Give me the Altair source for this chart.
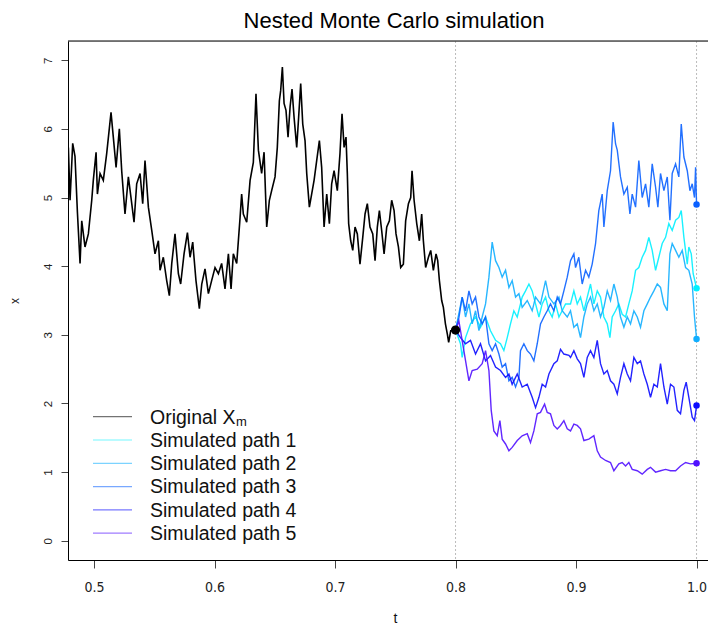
import altair as alt
import pandas as pd

# ---------------- data ----------------
black_t = [0.4787, 0.4801, 0.4823, 0.4842, 0.4862, 0.4884, 0.4898, 0.4925, 0.4953, 0.4981,
           0.4994, 0.5017, 0.5028, 0.505, 0.5077, 0.5105, 0.5141, 0.516, 0.5183, 0.521,
           0.523, 0.5257, 0.5285, 0.5313, 0.5332, 0.5354, 0.5382, 0.5404, 0.5423, 0.5451,
           0.5479, 0.5506, 0.5534, 0.5548, 0.5575, 0.5603, 0.5625, 0.5645, 0.5672, 0.57,
           0.5719, 0.5747, 0.5775, 0.5797, 0.5819, 0.5846, 0.5874, 0.5894, 0.5921, 0.5949,
           0.5976, 0.6004, 0.6032, 0.6059, 0.6087, 0.6115, 0.6137, 0.6156, 0.6184, 0.6212,
           0.6225, 0.6239, 0.6267, 0.6295, 0.6322, 0.6344, 0.6364, 0.6391, 0.6411, 0.6433,
           0.6455, 0.6474, 0.6502, 0.6521, 0.6538,
           0.6549, 0.6563, 0.6577, 0.6593, 0.661, 0.6627, 0.6643, 0.666, 0.6682, 0.6698,
           0.6715, 0.6732, 0.6751, 0.6765, 0.6787, 0.6806, 0.6826, 0.6848, 0.687, 0.6889,
           0.6909, 0.6931, 0.6953, 0.6972, 0.6992, 0.7019, 0.7041, 0.7058, 0.7075, 0.7091,
           0.7102, 0.7113, 0.713, 0.7147, 0.7166, 0.7185, 0.7207, 0.723, 0.7249, 0.7268,
           0.729, 0.7313, 0.7332, 0.7351, 0.7368, 0.7387, 0.7407, 0.7429, 0.7451, 0.747,
           0.749, 0.7506, 0.7526, 0.7545, 0.7567, 0.7586, 0.7609, 0.7628, 0.7639, 0.7656,
           0.7678, 0.77, 0.7719, 0.7733, 0.7752, 0.7775, 0.7794, 0.7816, 0.7838, 0.7852,
           0.7866, 0.7885, 0.7899, 0.7916, 0.7932, 0.7943, 0.796, 0.7982, 0.8]
black_x = [5.73, 4.96, 5.79, 5.6, 4.79, 4.04, 4.66, 4.28, 4.47, 4.96,
           5.25, 5.66, 5.05, 5.35, 5.25, 5.64, 6.24, 5.88, 5.44, 6.0,
           5.38, 4.76, 5.3, 4.91, 4.64, 5.2, 5.35, 4.91, 5.54, 4.86,
           4.52, 4.18, 4.37, 3.94, 4.13, 3.79, 3.57, 4.04, 4.47, 3.89,
           3.74, 4.18, 4.49, 4.13, 4.35, 3.79, 3.38, 3.74, 3.96, 3.6,
           3.79, 3.98, 3.89, 4.04, 3.67, 4.18, 3.67, 4.18, 4.04, 4.71,
           5.05, 4.76, 4.64, 5.25, 5.51, 6.51, 5.69, 5.35, 5.66, 4.57,
           4.96, 5.1, 5.3, 5.73, 6.41,
           6.56, 6.9, 6.37, 6.27, 5.88, 6.32, 6.58, 6.17, 5.73, 6.17,
           6.66, 6.07, 5.83, 5.35, 4.86, 5.05, 5.25, 5.54, 5.83, 5.44,
           4.57, 5.05, 4.62, 5.2, 5.39, 5.1, 5.64, 6.22, 5.73, 5.88,
           5.35, 4.62, 4.37, 4.23, 4.57, 4.47, 4.03, 4.42, 4.76, 4.91,
           4.57, 4.47, 4.08, 4.57, 4.81, 4.52, 4.18, 4.57, 4.66, 4.96,
           4.81, 4.47, 4.28, 3.98, 4.03, 4.66, 4.91, 5.0, 5.39, 4.96,
           4.62, 4.37, 4.76, 4.37, 3.98, 4.13, 4.23, 3.94, 4.18, 4.08,
           3.79, 3.5, 3.4, 3.16, 3.01, 2.89, 3.06, 3.06, 3.07]

p1_t = [0.8, 0.8041, 0.8055, 0.8083, 0.8124, 0.8166, 0.8207, 0.8249, 0.829, 0.8332,
        0.8373, 0.8401, 0.8429, 0.8456, 0.8484, 0.8512, 0.8553, 0.8581, 0.8609, 0.8636,
        0.8664, 0.8692, 0.8719, 0.8747, 0.8775, 0.8802, 0.883, 0.8858, 0.8885, 0.8913,
        0.8954, 0.8982, 0.901, 0.9037, 0.9065, 0.9093, 0.912, 0.9148, 0.9176, 0.9203,
        0.9231, 0.9259, 0.9281, 0.93, 0.9328, 0.9355, 0.9383, 0.9411, 0.9438, 0.9466,
        0.9494, 0.9521, 0.9549, 0.9577, 0.9604, 0.9632, 0.966, 0.9687, 0.9715, 0.9743,
        0.977, 0.9798, 0.9826, 0.9853, 0.9873, 0.9895, 0.9923, 0.9936, 0.9956, 0.9972,
        0.9992, 1.0]
p1_x = [3.07, 2.87, 2.67, 2.96, 3.16, 3.26, 3.11, 3.26, 3.06, 2.92,
        2.87, 2.77, 2.96, 3.16, 3.35, 3.26, 3.55, 3.64, 3.74, 3.64,
        3.45, 3.26, 3.45, 3.55, 3.35, 3.26, 3.45, 3.26, 3.35, 3.45,
        3.45, 3.64, 3.45, 3.55, 3.35, 3.55, 3.74, 3.45, 3.64, 3.55,
        3.26, 3.16, 2.96, 3.26, 3.35, 3.45, 3.30, 3.26, 3.45, 3.64,
        3.94, 3.98, 4.13, 4.23, 4.42, 4.23, 3.94, 4.13, 4.33, 4.42,
        4.62, 4.52, 4.67, 4.71, 4.81, 4.42, 4.03, 4.28, 4.18, 3.89,
        3.74, 3.68]

p2_t = [0.8, 0.8055, 0.8083, 0.8111, 0.8138, 0.8166, 0.8194, 0.8221, 0.8249, 0.8277,
        0.8304, 0.8332, 0.836, 0.8387, 0.8415, 0.8443, 0.847, 0.8498, 0.8526, 0.8553,
        0.8595, 0.8636, 0.8664, 0.8705, 0.8747, 0.8775, 0.8816, 0.8858, 0.8885, 0.8927,
        0.8954, 0.8982, 0.901, 0.9037, 0.9065, 0.9093, 0.912, 0.9148, 0.9176, 0.9203,
        0.9231, 0.9259, 0.9286, 0.9314, 0.9342, 0.9369, 0.9397, 0.9425, 0.9452, 0.948,
        0.9508, 0.9535, 0.9563, 0.9591, 0.9618, 0.9646, 0.9674, 0.9701, 0.9729, 0.9757,
        0.9779, 0.9798, 0.9826, 0.9853, 0.9881, 0.9909, 0.9936, 0.9964, 0.9983, 1.0]
p2_x = [3.07, 3.55, 3.26, 3.45, 3.16, 3.35, 3.06, 3.26, 3.45, 3.84,
        4.35, 4.08, 3.98, 3.84, 3.94, 3.69, 3.79, 3.55, 3.60, 3.40,
        3.50, 3.35, 3.55, 3.45, 3.79, 3.55, 3.45, 3.55, 3.35, 3.26,
        3.35, 3.11, 3.16, 2.96, 3.26, 3.45, 3.55, 3.35, 3.45, 3.26,
        3.40, 3.64, 3.50, 3.74, 3.55, 3.26, 3.11, 3.26, 3.16, 3.35,
        3.26, 3.11, 3.35, 3.45, 3.55, 3.64, 3.74, 3.69, 3.45, 3.35,
        4.18, 4.33, 4.23, 4.13, 4.23, 3.98, 3.94, 3.74, 3.26, 2.94]

p3_t = [0.8, 0.8028, 0.8055, 0.8083, 0.8111, 0.8138, 0.8166, 0.8194, 0.8221, 0.8249,
        0.8277, 0.8304, 0.8332, 0.836, 0.8387, 0.8415, 0.8443, 0.847, 0.8498, 0.8526,
        0.8539, 0.8567, 0.8595, 0.8622, 0.865, 0.8678, 0.8705, 0.8733, 0.8761, 0.8788,
        0.8816, 0.8844, 0.8871, 0.8899, 0.8927, 0.8954, 0.8982, 0.8996, 0.9023, 0.9051,
        0.9079, 0.9106, 0.9134, 0.9162, 0.9189, 0.9217, 0.9231, 0.9259, 0.9286, 0.9308,
        0.9328, 0.9342, 0.9369, 0.9397, 0.9425, 0.9447, 0.9466, 0.9494, 0.9521, 0.9549,
        0.9577, 0.9604, 0.9632, 0.966, 0.9679, 0.9701, 0.9729, 0.9757, 0.9779, 0.9798,
        0.9826, 0.9853, 0.9873, 0.9895, 0.9923, 0.9945, 0.9964, 0.9983, 0.9992, 1.0]
p3_x = [3.07, 3.25, 3.55, 3.35, 3.64, 3.45, 3.55, 3.26, 3.16, 3.26,
        2.87, 2.77, 2.87, 2.72, 2.53, 2.58, 2.33, 2.38, 2.24, 2.38,
        2.77, 2.87, 2.77, 2.72, 2.62, 2.87, 3.16, 3.26, 3.35, 3.45,
        3.35, 3.55, 3.45, 3.64, 3.84, 4.08, 4.18, 3.98, 4.13, 3.74,
        3.94, 3.84, 4.03, 4.33, 4.81, 5.05, 4.57, 5.10, 5.39, 6.10,
        5.78, 5.69, 5.30, 5.05, 5.15, 4.76, 5.05, 4.86, 5.54, 5.00,
        5.20, 4.86, 5.49, 5.15, 4.86, 5.35, 5.10, 5.30, 4.67, 5.35,
        5.49, 5.30, 6.07, 5.59, 5.39, 5.10, 5.20, 5.00, 5.44, 4.90]

p4_t = [0.8, 0.8041, 0.8083, 0.8124, 0.8166, 0.8207, 0.8249, 0.829, 0.8332, 0.8373,
        0.8415, 0.8443, 0.847, 0.8512, 0.8553, 0.8595, 0.8636, 0.8664, 0.8692, 0.8719,
        0.8747, 0.8775, 0.8816, 0.8844, 0.8871, 0.8899, 0.8941, 0.8954, 0.8982, 0.901,
        0.9037, 0.9065, 0.9093, 0.912, 0.9148, 0.9176, 0.9203, 0.9231, 0.9259, 0.9286,
        0.9314, 0.9342, 0.9369, 0.9397, 0.9425, 0.9452, 0.948, 0.9508, 0.9535, 0.9563,
        0.9591, 0.9618, 0.9646, 0.9674, 0.9701, 0.9729, 0.9757, 0.9784, 0.9812, 0.984,
        0.9867, 0.9895, 0.9914, 0.9936, 0.9964, 0.9983, 1.0]
p4_x = [3.07, 2.96, 2.87, 2.92, 2.72, 2.87, 2.62, 2.70, 2.53, 2.48,
        2.38, 2.43, 2.28, 2.43, 2.24, 2.28, 2.09, 1.94, 2.09, 2.28,
        2.24, 2.43, 2.58, 2.62, 2.79, 2.72, 2.70, 2.67, 2.77, 2.65,
        2.58, 2.38, 2.67, 2.77, 2.67, 2.92, 2.58, 2.43, 2.48, 2.33,
        2.28, 2.14, 2.38, 2.58, 2.43, 2.33, 2.67, 2.58, 2.62, 2.43,
        2.28, 2.09, 2.28, 2.24, 2.58, 2.24, 1.99, 2.28, 2.24, 1.90,
        1.85, 2.19, 2.31, 2.09, 1.80, 1.75, 1.97]

p5_t = [0.8, 0.8028, 0.8069, 0.8111, 0.8138, 0.818, 0.8221, 0.8249, 0.8277, 0.8296,
        0.8318, 0.8346, 0.8368, 0.8387, 0.8415, 0.8443, 0.847, 0.8512, 0.8553, 0.8595,
        0.8622, 0.865, 0.8678, 0.8705, 0.8739, 0.8761, 0.8788, 0.8816, 0.8844, 0.8871,
        0.8899, 0.8927, 0.8954, 0.8982, 0.901, 0.9037, 0.9065, 0.9106, 0.9148, 0.9176,
        0.9203, 0.9245, 0.9286, 0.9314, 0.9355, 0.9383, 0.9411, 0.9438, 0.9466, 0.9508,
        0.9549, 0.9591, 0.9618, 0.966, 0.9701, 0.9743, 0.9784, 0.9826, 0.9867, 0.9909,
        0.995, 1.0]
p5_x = [3.07, 3.20, 2.77, 2.33, 2.48, 2.50, 2.58, 2.77, 2.48, 1.90,
        1.60, 1.53, 1.75, 1.48, 1.41, 1.31, 1.36, 1.46, 1.53, 1.56,
        1.43, 1.60, 1.85, 1.87, 1.99, 1.87, 1.85, 1.68, 1.63, 1.68,
        1.75, 1.63, 1.60, 1.70, 1.68, 1.63, 1.46, 1.48, 1.53, 1.31,
        1.22, 1.17, 1.14, 1.02, 1.12, 1.14, 1.09, 1.14, 1.04, 1.02,
        0.97, 1.04, 1.07, 1.00, 1.02, 1.04, 1.02, 1.02, 1.09, 1.14,
        1.12, 1.13]

chart_title = "Nested Monte Carlo simulation"
legend_labels = ["Original X", "Simulated path 1", "Simulated path 2",
                 "Simulated path 3", "Simulated path 4", "Simulated path 5"]
path_colors = ["#00F0FF", "#10AEFF", "#0A60FF", "#0A0AFF", "#5010FF"]
split_times = [0.8, 1.0]
x_ticks = [0.5, 0.6, 0.7, 0.8, 0.9, 1.0]
y_ticks = [0, 1, 2, 3, 4, 5, 6, 7]

# ---------------- layout ----------------
W, H = 640, 519
FONT = "Liberation Sans, Arial, Helvetica, sans-serif"
NARROW = "Liberation Sans Narrow, DejaVu Sans Condensed, Liberation Sans, Arial, sans-serif"

xs = alt.Scale(domain=[0.4784, 1.0095], nice=False, zero=False)
ys = alt.Scale(domain=[-0.28, 7.28], nice=False, zero=False)

x_axis = alt.Axis(values=x_ticks, format=".1f", title="t", grid=False,
                  tickSize=8, labelPadding=12, labelFontSize=14, labelFont=NARROW,
                  labelColor="#222222", tickColor="#444444", domainColor="#000000",
                  labelFlush=False, labelOverlap=False,
                  titleFontSize=14, titleFontWeight="normal", titleColor="#111111",
                  titleX=327, titleY=62, titleAlign="center", titleBaseline="alphabetic")
y_axis = alt.Axis(values=y_ticks, format="d", title="x", grid=False,
                  tickSize=7, labelPadding=8, labelFontSize=11.5, labelAngle=270,
                  labelAlign="center", labelBaseline="bottom",
                  labelColor="#222222", tickColor="#444444", domainColor="#000000",
                  labelFlush=False, labelOverlap=False,
                  titleFontSize=12, titleFontWeight="normal", titleColor="#111111",
                  titleAngle=270, titleX=-54, titleY=259.5, titleAlign="center",
                  titleBaseline="middle")

def X(field="t"):
    return alt.X(f"{field}:Q", scale=xs, axis=x_axis)

def Y(field="x"):
    return alt.Y(f"{field}:Q", scale=ys, axis=y_axis)

layers = []

# vertical dotted lines
vl = pd.DataFrame({"t": split_times})
layers.append(alt.Chart(vl).mark_rule(color="#bbbbbb", strokeDash=[2, 2], strokeWidth=1)
              .encode(x=X()))

# original path
bdf = pd.DataFrame({"t": black_t, "x": black_x})
layers.append(alt.Chart(bdf).mark_line(color="#000000", strokeWidth=1.6, clip=True)
              .encode(x=X(), y=Y(), order="t:Q"))

# simulated paths
paths = [(p1_t, p1_x), (p2_t, p2_x), (p3_t, p3_x), (p4_t, p4_x), (p5_t, p5_x)]
for (tt, xx), col in zip(paths, path_colors):
    df = pd.DataFrame({"t": tt, "x": xx})
    layers.append(alt.Chart(df).mark_line(color=col, strokeWidth=1.4, opacity=0.9, clip=True)
                  .encode(x=X(), y=Y(), order="t:Q"))

# end dots
for (tt, xx), col in zip(paths, path_colors):
    df = pd.DataFrame({"t": [tt[-1]], "x": [xx[-1]]})
    layers.append(alt.Chart(df).mark_circle(color=col, size=42, opacity=1)
                  .encode(x=X(), y=Y()))

# start dot
sdf = pd.DataFrame({"t": [black_t[-1]], "x": [black_x[-1]]})
layers.append(alt.Chart(sdf).mark_circle(color="#000000", size=85, opacity=1)
              .encode(x=X(), y=Y()))

# top border
one = pd.DataFrame({"k": [0]})
layers.append(alt.Chart(one).mark_rule(color="#000000", strokeWidth=1)
              .encode(x=alt.value(0), x2=alt.value(W), y=alt.value(0)))

# title as a text mark (placed above the plot area)
layers.append(alt.Chart(pd.DataFrame({"label": [chart_title]}))
              .mark_text(align="center", baseline="alphabetic", fontSize=22,
                         font=FONT, color="#000000")
              .encode(x=alt.value(326), y=alt.value(-13), text="label:N"))

# manual legend
legend_colors = ["#000000"] + path_colors
row0, step = 375.7, 23.3
for i, (lab, col) in enumerate(zip(legend_labels, legend_colors)):
    yc = row0 + step * i
    ldf = pd.DataFrame({"label": [lab]})
    layers.append(alt.Chart(ldf).mark_rule(color=col, opacity=0.55, strokeWidth=1.2)
                  .encode(x=alt.value(25), x2=alt.value(64), y=alt.value(yc)))
    layers.append(alt.Chart(ldf).mark_text(align="left", baseline="alphabetic",
                                           fontSize=19.5, font=FONT, color="#111111")
                  .encode(x=alt.value(82), y=alt.value(yc + 6.8), text="label:N"))
    if i == 0:
        layers.append(alt.Chart(pd.DataFrame({"label": ["m"]}))
                      .mark_text(align="left", baseline="alphabetic", fontSize=13,
                                 font=FONT, color="#111111")
                      .encode(x=alt.value(168), y=alt.value(yc + 8.8), text="label:N"))

chart = alt.layer(*layers).properties(
    width=W, height=H,
    autosize=alt.AutoSizeParams(type="none"),
    padding={"left": 60, "top": 33, "right": 0, "bottom": 66},
).configure_view(stroke=None).configure(font=FONT, background="#ffffff")

chart.save("out.html", embed_options={"renderer": "svg", "actions": False})
